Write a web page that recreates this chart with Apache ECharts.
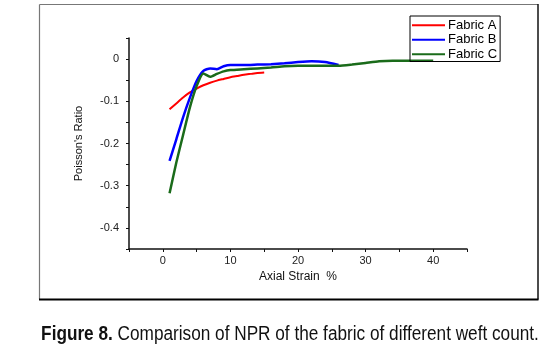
<!DOCTYPE html>
<html>
<head>
<meta charset="utf-8">
<script src="https://cdn.jsdelivr.net/npm/echarts@6/dist/echarts.min.js"></script>
<style>
  html, body { margin: 0; padding: 0; background: #fff; }
  #chart { width: 559px; height: 351px; }
</style>
</head>
<body>
<div id="chart"></div>
<script>
// Fabric A (red)
var strainA = [1, 2, 3, 4, 5, 6, 7, 8, 9, 10, 11, 12, 13, 14, 15]
var ratioA = [-0.119, -0.105, -0.091, -0.079, -0.07, -0.062, -0.056, -0.051, -0.047, -0.043, -0.04, -0.037, -0.035, -0.033, -0.032]
// Fabric B (blue)
var strainB = [1, 2, 3, 4, 5, 6, 7, 8, 9, 10, 12, 14, 16, 18, 20, 22, 24, 26]
var ratioB = [-0.241, -0.19, -0.138, -0.092, -0.052, -0.028, -0.022, -0.024, -0.017, -0.014, -0.014, -0.013, -0.012, -0.01, -0.007, -0.005, -0.007, -0.014]
// Fabric C (green)
var strainC = [1, 2, 3, 4, 5, 6, 7, 8, 9, 10, 12, 14, 16, 18, 20, 22, 24, 26, 28, 30, 32, 34, 36, 38, 40]
var ratioC = [-0.318, -0.245, -0.18, -0.115, -0.064, -0.034, -0.042, -0.035, -0.029, -0.026, -0.024, -0.022, -0.02, -0.017, -0.016, -0.016, -0.016, -0.016, -0.013, -0.009, -0.005, -0.004, -0.004, -0.004, -0.004]

var names = ['Fabric A', 'Fabric B', 'Fabric C']
var colors = ['#ff0000', '#0000ff', '#1a6b1a']

function pairs(xs, ys) {
    var out = []
    for (var i = 0; i < xs.length; i++) out.push([xs[i], ys[i]])
    return out
}

var chart = echarts.init(document.getElementById('chart'))
var font = 'Liberation Sans, Arial, sans-serif'

var option = {
    animation: false,
    backgroundColor: '#fff',
    legend: {
        data: names,
        left: 410,
        top: 16,
        orient: 'vertical',
        icon: 'rect',
        itemWidth: 33,
        itemHeight: 2,
        itemGap: 0,
        padding: [2, 3, 0, 2],
        borderColor: '#000',
        borderWidth: 1,
        textStyle: { fontFamily: font, fontSize: 13, color: '#000', lineHeight: 13.5, padding: [1, 0, 0, -2] }
    },
    grid: { left: 129, right: 92, top: 38, bottom: 102 },
    xAxis: {
        type: 'value',
        min: -5,
        max: 45,
        interval: 5,
        name: 'Axial Strain  %',
        nameLocation: 'middle',
        nameGap: 22,
        nameTextStyle: { fontFamily: font, fontSize: 12, color: '#111' },
        axisLine: { onZero: false, lineStyle: { color: '#111', width: 1.5 } },
        axisTick: { inside: false, length: 3, lineStyle: { color: '#111' } },
        axisLabel: {
            fontFamily: font, fontSize: 11, color: '#222', margin: 6,
            formatter: function (v) { return (v % 10 === 0 && v >= 0 && v <= 40) ? String(v) : '' }
        },
        splitLine: { show: false }
    },
    yAxis: {
        type: 'value',
        min: -0.45,
        max: 0.05,
        interval: 0.05,
        name: "Poisson's Ratio",
        nameLocation: 'middle',
        nameGap: 45,
        nameTextStyle: { fontFamily: font, fontSize: 11, color: '#111' },
        axisLine: { show: true, onZero: false, lineStyle: { color: '#111', width: 1.5 } },
        axisTick: { show: true, length: 3, lineStyle: { color: '#111' } },
        axisLabel: {
            fontFamily: font, fontSize: 11, color: '#222', margin: 10,
            formatter: function (v) {
                var r = Math.round(v * 100)
                if (r % 10 !== 0 || r > 0 || r < -40) return ''
                return r === 0 ? '0' : (r / 100).toFixed(1)
            }
        },
        splitLine: { show: false }
    },
    graphic: [
        { type: 'line', shape: { x1: 39.5, y1: 4.5, x2: 538, y2: 4.5 }, style: { stroke: '#777', lineWidth: 1.2 } },
        { type: 'line', shape: { x1: 39.5, y1: 4.5, x2: 39.5, y2: 299 }, style: { stroke: '#777', lineWidth: 1.2 } },
        { type: 'line', shape: { x1: 538, y1: 4, x2: 538, y2: 299.5 }, style: { stroke: '#111', lineWidth: 1.5 } },
        { type: 'line', shape: { x1: 39, y1: 299.5, x2: 538.5, y2: 299.5 }, style: { stroke: '#000', lineWidth: 1.8 } },
        // caption, condensed horizontally
        {
            type: 'text',
            x: 290, y: 334,
            scaleX: 0.86,
            style: {
                text: '{b|Figure 8.} Comparison of NPR of the fabric of different weft count.',
                align: 'center',
                verticalAlign: 'middle',
                font: '20px Liberation Sans',
                fill: '#111',
                rich: {
                    b: { fontFamily: 'Liberation Sans', fontSize: 20, fontWeight: 'bold', fill: '#111' }
                }
            }
        }
    ],
    series: [
        { name: names[0], type: 'line', data: pairs(strainA, ratioA), showSymbol: false, smooth: 0.2, lineStyle: { width: 2, color: colors[0] }, itemStyle: { color: colors[0] } },
        { name: names[1], type: 'line', data: pairs(strainB, ratioB), showSymbol: false, smooth: 0.2, lineStyle: { width: 2.5, color: colors[1] }, itemStyle: { color: colors[1] } },
        { name: names[2], type: 'line', data: pairs(strainC, ratioC), showSymbol: false, smooth: 0.2, lineStyle: { width: 2.5, color: colors[2] }, itemStyle: { color: colors[2] } }
    ]
}
chart.setOption(option)
</script>
</body>
</html>
